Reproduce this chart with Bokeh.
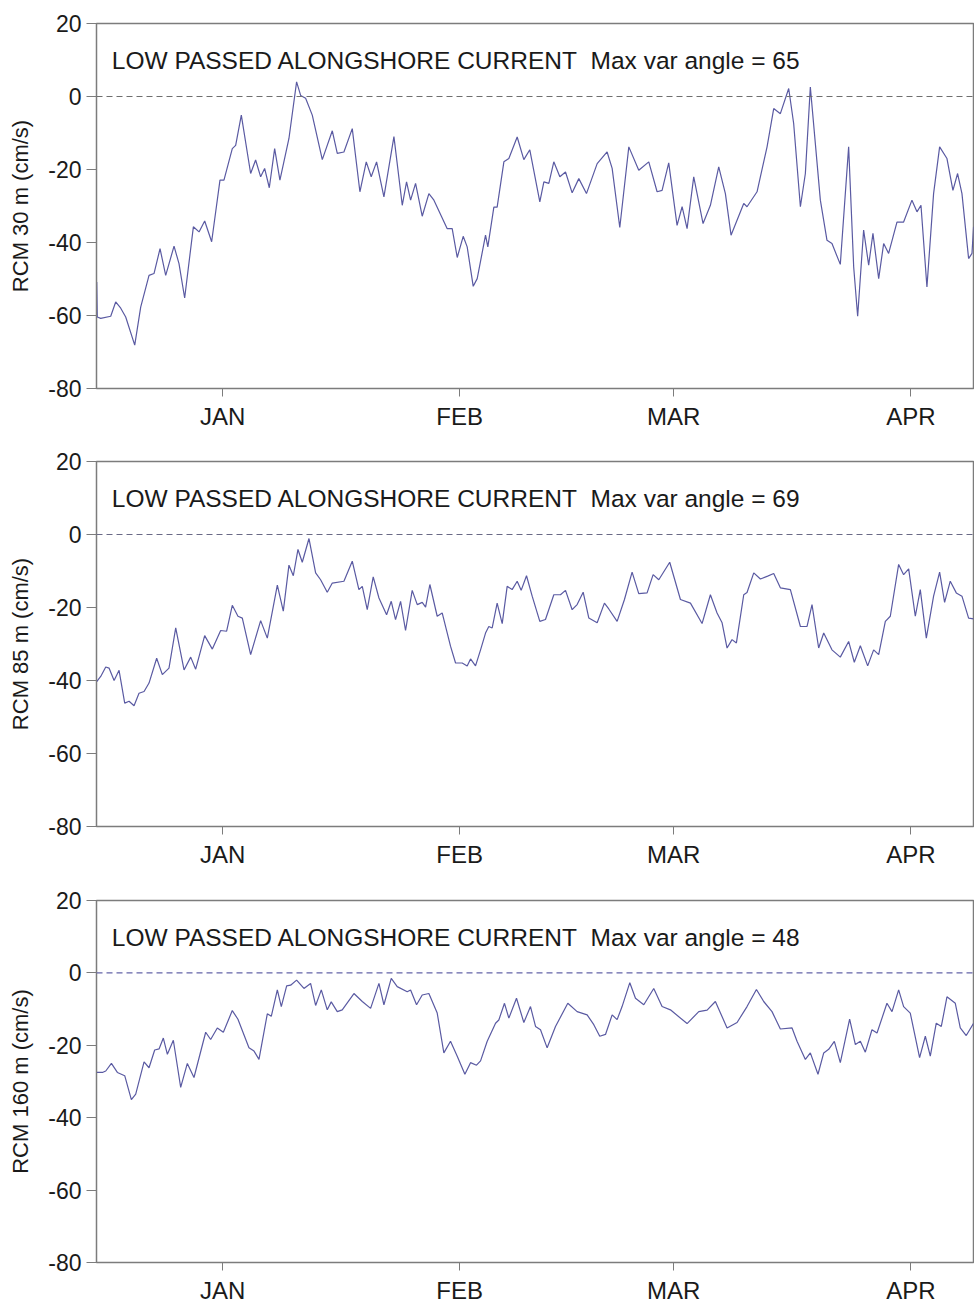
from bokeh.plotting import figure
from bokeh.layouts import column
from bokeh.models import Range1d, FixedTicker, Span, Label, Arrow
from bokeh.embed import file_html
from bokeh.resources import INLINE

# ---- data (days relative to Jan 1) ----
month_ticks = [0, 31, 59, 90]
month_labels = ["JAN", "FEB", "MAR", "APR"]
y_ticks = [-80, -60, -40, -20, 0, 20]
y_tick_labels = ["-80", "-60", "-40", "-20", "0", "20"]

days_30 = [-16.47, -16.4, -15.95, -14.64, -13.99, -13.33, -12.68, -11.50, -10.72, -9.63, -8.98, -8.19, -7.45,
           -6.36, -5.71, -4.97, -3.83, -3.09, -2.35, -1.44, -0.35, 0.17, 1.26, 1.70, 2.44, 3.66, 4.31, 4.97,
           5.49, 6.10, 6.80, 7.49, 8.67, 9.67, 10.20, 10.85, 11.72, 13.03, 14.34, 14.99, 15.86, 16.95, 17.95,
           18.78, 19.43, 20.13, 21.09, 22.40, 23.49, 24.05, 24.58, 25.23, 26.10, 26.97, 27.63, 29.37, 30.02,
           30.68, 31.46, 31.98, 32.77, 33.29, 34.38, 34.68, 35.47, 35.90, 36.78, 37.43, 38.52, 39.39, 40.17,
           41.48, 42.01, 42.66, 43.31, 44.10, 44.84, 45.71, 46.58, 47.58, 48.98, 50.28, 50.94, 51.94, 53.12,
           54.42, 55.73, 56.82, 57.47, 58.34, 59.43, 60.09, 60.74, 61.61, 62.83, 63.79, 64.88, 65.75, 66.49,
           68.15, 68.58, 69.89, 71.20, 72.07, 72.94, 74.03, 74.68, 75.56, 76.21, 76.86, 78.17, 79.04, 79.69,
           80.78, 81.87, 82.53, 83.05, 83.83, 84.49, 85.05, 85.80, 86.45, 87.10, 88.19, 89.06, 90.15, 90.81,
           91.33, 92.11, 92.98, 93.77, 94.73, 95.51, 96.12, 96.69, 97.56, 98.00, 98.21]
rcm_30 = [-50.8, -60.4, -60.8, -60.2, -56.3, -58.0, -60.4, -68.1, -57.7, -49.0, -48.5, -41.7, -49.0,
          -41.0, -45.8, -55.2, -35.7, -37.1, -34.1, -39.8, -22.9, -22.9, -14.3, -13.4, -5.1, -21.1, -17.4, -22.0,
          -19.7, -25.0, -14.3, -22.9, -11.5, 4.0, 0.3, -0.5, -5.1, -17.3, -9.4, -15.6, -15.2, -8.8, -26.1,
          -17.9, -22.0, -17.9, -27.5, -11.0, -29.8, -23.4, -28.4, -23.8, -32.8, -26.6, -28.4, -36.2, -36.2,
          -44.1, -38.3, -41.2, -52.0, -49.9, -38.0, -41.2, -30.3, -30.3, -17.9, -17.0, -11.1, -17.3, -14.6,
          -28.9, -23.4, -23.8, -17.9, -22.0, -20.7, -26.4, -22.5, -26.6, -18.4, -15.2, -19.7, -35.9, -13.8,
          -20.2, -17.9, -26.1, -25.7, -18.2, -35.3, -30.2, -36.2, -22.0, -34.8, -29.8, -19.3, -26.6, -38.0,
          -29.3, -30.2, -26.1, -13.8, -3.3, -4.7, 2.2, -7.4, -30.2, -21.1, 2.6, -28.4, -39.4, -40.3,
          -46.0, -13.8, -46.7, -60.2, -36.6, -46.2, -37.5, -49.9, -40.3, -43.0, -34.4, -34.4, -28.4, -31.6,
          -29.8, -52.2, -26.6, -13.8, -17.0, -25.7, -21.1, -26.6, -44.4, -43.0, -35.7]

days_85 = [-16.47, -15.95, -15.29, -14.86, -14.20, -13.55, -12.81, -12.24, -11.59, -10.94, -10.28, -9.63, -8.63,
           -7.89, -7.02, -6.14, -5.05, -4.18, -3.53, -2.35, -1.35, -0.26, 0.52, 1.26, 2.00, 2.57, 3.66, 4.97,
           5.84, 7.15, 7.93, 8.67, 9.24, 9.85, 10.41, 11.29, 12.16, 12.81, 13.68, 14.34, 15.86, 16.95, 17.82,
           18.26, 18.91, 19.69, 20.44, 21.44, 22.05, 22.61, 23.27, 23.92, 24.79, 25.45, 26.10, 26.54, 27.10,
           28.06, 28.71, 29.80, 30.46, 31.33, 31.98, 32.42, 33.07, 33.73, 34.38, 34.81, 35.25, 35.90, 36.56,
           37.21, 37.86, 38.52, 39.04, 39.74, 40.48, 41.48, 42.22, 43.31, 44.18, 44.84, 45.71, 46.36, 47.15,
           47.89, 48.98, 49.93, 50.50, 51.59, 52.55, 53.55, 54.42, 55.51, 56.30, 57.04, 58.47, 59.87, 61.18,
           62.70, 63.79, 64.66, 65.32, 65.97, 66.62, 67.19, 68.15, 68.58, 69.46, 70.33, 71.28, 72.07, 72.94,
           74.25, 75.56, 76.43, 77.08, 77.95, 78.61, 79.69, 80.78, 81.87, 82.61, 83.40, 84.36, 85.14, 85.80,
           86.67, 87.32, 88.41, 89.06, 89.72, 90.59, 91.24, 92.03, 92.98, 93.77, 94.42, 95.16, 95.95, 96.69,
           97.56, 98.21]
rcm_85 = [-40.3, -38.9, -36.3, -36.6, -40.0, -37.2, -46.2, -45.7, -46.9, -43.5, -43.0, -40.7, -33.9,
          -38.4, -36.6, -25.6, -37.1, -33.6, -36.9, -27.7, -31.4, -26.3, -26.5, -19.4, -22.4, -22.9, -32.9, -23.6,
          -28.4, -13.9, -21.0, -8.4, -11.3, -4.1, -7.6, -1.1, -10.5, -12.4, -15.8, -13.3, -12.8, -7.3, -15.1,
          -14.2, -20.6, -11.6, -17.4, -22.0, -18.3, -23.3, -18.3, -26.3, -15.3, -19.2, -18.6, -19.9, -13.7,
          -22.4, -21.5, -30.6, -35.2, -35.2, -36.0, -34.1, -36.0, -31.6, -27.0, -25.2, -25.6, -18.8, -24.4,
          -14.2, -15.1, -12.8, -15.3, -11.3, -16.9, -23.8, -23.3, -16.5, -16.5, -15.3, -20.6, -19.2, -15.8,
          -22.9, -24.2, -18.8, -20.4, -23.8, -17.8, -10.3, -16.2, -16.0, -11.0, -12.4, -7.6, -17.8, -18.8,
          -24.4, -16.5, -21.5, -24.2, -31.1, -28.8, -29.7, -16.5, -15.9, -10.5, -12.2, -11.4, -10.7, -14.6,
          -15.1, -25.2, -25.2, -19.2, -31.1, -27.0, -31.6, -33.6, -29.3, -35.0, -30.5, -36.0, -31.6, -32.9,
          -23.8, -22.4, -8.2, -11.0, -9.4, -22.4, -15.1, -28.4, -16.9, -10.3, -18.6, -12.8, -16.0, -16.9,
          -22.9, -23.1]

days_160 = [-16.47, -15.73, -15.29, -14.55, -13.77, -12.81, -11.94, -11.37, -10.28, -9.63, -8.89, -8.32, -7.76,
            -7.23, -6.45, -5.49, -4.62, -3.75, -2.22, -1.57, -0.70, 0.09, 1.26, 2.00, 3.44, 4.10, 4.75, 5.84,
            6.36, 7.15, 7.67, 8.37, 8.89, 9.67, 10.63, 11.50, 12.16, 12.90, 13.68, 14.20, 14.99, 15.64, 17.17,
            18.26, 19.35, 20.44, 21.09, 22.05, 22.83, 24.14, 24.58, 25.36, 26.10, 26.97, 28.06, 28.93, 29.80,
            30.68, 31.68, 32.42, 33.20, 33.73, 34.60, 35.69, 36.12, 36.86, 37.43, 38.43, 39.39, 40.26, 40.92,
            41.57, 42.44, 43.53, 45.14, 46.36, 47.67, 48.54, 49.32, 50.07, 50.94, 51.59, 52.24, 53.25, 53.99,
            55.08, 56.38, 57.47, 58.56, 60.74, 62.27, 63.36, 64.44, 65.97, 67.28, 68.58, 69.81, 70.76, 71.85,
            72.94, 74.47, 75.12, 76.21, 76.86, 77.86, 78.61, 79.26, 80.00, 80.78, 82.00, 82.75, 83.40, 84.05,
            84.92, 85.58, 86.88, 87.54, 88.41, 89.06, 89.93, 91.15, 91.90, 92.55, 93.33, 93.99, 94.73, 95.82,
            96.47, 97.25, 98.21]
rcm_160 = [-27.5, -27.5, -27.1, -25.0, -27.5, -28.4, -35.0, -33.5, -24.6, -26.2, -21.3, -21.0, -18.0,
           -22.5, -18.6, -31.6, -25.0, -28.9, -16.4, -18.4, -15.2, -16.4, -10.4, -12.8, -20.7, -21.6, -23.9, -11.3,
           -12.0, -4.7, -9.3, -3.6, -3.4, -2.0, -4.3, -2.9, -9.0, -4.7, -10.2, -8.0, -10.7, -10.2, -5.7,
           -7.9, -9.8, -2.9, -8.8, -1.5, -3.8, -5.2, -4.7, -8.8, -6.1, -5.7, -11.1, -22.1, -18.9,
           -23.0, -28.0, -24.8, -25.5, -24.3, -18.9, -13.9, -13.0, -8.4, -12.5, -7.0, -13.7, -9.3, -14.8,
           -15.7, -20.7, -14.8, -8.4, -10.7, -11.6, -14.3, -17.5, -17.0, -11.6, -12.9, -9.3, -2.7, -7.0,
           -8.8, -4.3, -9.3, -10.2, -14.0, -10.7, -10.3, -7.9, -15.2, -13.7, -9.3, -4.6, -7.9, -10.7,
           -15.5, -15.2, -18.9, -23.9, -22.1, -28.0, -22.1, -21.1, -18.9, -24.8, -12.8, -19.8, -18.9, -21.9,
           -15.7, -16.6, -8.4, -10.7, -4.7, -9.3, -11.1, -23.4, -17.5, -23.0, -13.9, -14.8, -6.6, -8.4,
           -15.2, -17.3, -13.9]

panels = [
    dict(days=days_30, vals=rcm_30, ylabel="RCM 30 m (cm/s)", angle=65, height=446, top=23, bottom=58, zero="#6e6e6e"),
    dict(days=days_85, vals=rcm_85, ylabel="RCM 85 m (cm/s)", angle=69, height=439, top=15, bottom=59, zero="#6a6a86"),
    dict(days=days_160, vals=rcm_160, ylabel="RCM 160 m (cm/s)", angle=48, height=421, top=15, bottom=41, zero="#6464a8"),
]

FONT = "Liberation Sans"
FRAME = "#7c7c7c"
LINE = "#5a5aa2"
Y_TOP = 20
TOP_TICK = 2.2  # outward tick length above the frame, in y units (~8 px)

figs = []
for pn in panels:
    p = figure(width=974, height=pn["height"], x_range=Range1d(-16.5, 98.2), y_range=Range1d(-80, Y_TOP),
               output_backend="svg", toolbar_location=None,
               min_border_left=96, min_border_right=1, min_border_top=pn["top"], min_border_bottom=pn["bottom"])
    p.xgrid.visible = False
    p.ygrid.visible = False
    p.outline_line_color = FRAME
    p.outline_line_width = 1.5
    p.background_fill_color = "white"
    p.border_fill_color = "white"

    xa = p.xaxis[0]
    xa.ticker = FixedTicker(ticks=month_ticks)
    xa.major_label_overrides = dict(zip(month_ticks, month_labels))
    xa.major_label_text_font = FONT
    xa.major_label_text_font_size = "24px"
    xa.major_label_text_color = "#1a1a1a"
    xa.major_label_standoff = 6
    xa.major_tick_out = 8
    xa.major_tick_in = 0
    xa.minor_tick_line_color = None
    xa.axis_line_color = FRAME
    xa.major_tick_line_color = FRAME

    # outward ticks along the top edge of the frame
    for t in month_ticks:
        p.add_layout(Arrow(end=None, start=None, x_start=t, y_start=Y_TOP, x_end=t, y_end=Y_TOP + TOP_TICK,
                           line_color=FRAME, line_width=1))

    ya = p.yaxis[0]
    ya.ticker = FixedTicker(ticks=y_ticks)
    ya.major_label_overrides = dict(zip(y_ticks, y_tick_labels))
    ya.major_label_text_font = FONT
    ya.major_label_text_font_size = "23px"
    ya.major_label_text_color = "#1a1a1a"
    ya.major_label_standoff = 5
    ya.major_tick_out = 10
    ya.major_tick_in = 0
    ya.minor_tick_line_color = None
    ya.axis_line_color = FRAME
    ya.major_tick_line_color = FRAME
    ya.axis_label = pn["ylabel"]
    ya.axis_label_text_font = FONT
    ya.axis_label_text_font_size = "22px"
    ya.axis_label_text_font_style = "normal"
    ya.axis_label_text_color = "#1a1a1a"
    ya.axis_label_standoff = 12

    p.add_layout(Span(location=0, dimension="width", line_color=pn["zero"], line_dash="6 4", line_width=1.2))
    p.line(pn["days"], pn["vals"], line_color=LINE, line_width=1.2)

    p.add_layout(Label(x=-14.5, y=9.9,
                       text="LOW PASSED ALONGSHORE CURRENT\u00a0 Max var angle = %d" % pn["angle"],
                       text_font=FONT, text_font_size="24.5px", text_color="#1a1a1a",
                       text_baseline="alphabetic", text_align="left"))
    figs.append(p)

layout = column(*figs, spacing=0)
open("out.html", "w").write(file_html(layout, INLINE))
